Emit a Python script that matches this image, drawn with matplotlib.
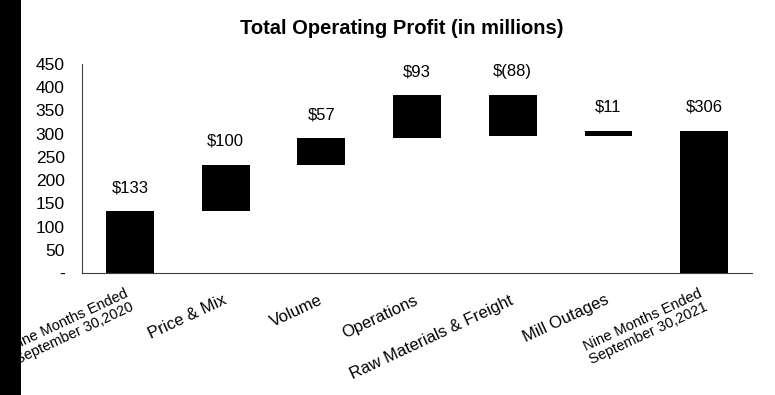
import matplotlib
matplotlib.use("Agg")
import matplotlib.pyplot as plt
from matplotlib.patches import Rectangle

plt.rcParams['font.family'] = ['Liberation Sans', 'DejaVu Sans']

categories = ["Nine Months Ended\nSeptember 30,2020", "Price & Mix", "Volume", "Operations",
              "Raw Materials & Freight", "Mill Outages", "Nine Months Ended\nSeptember 30,2021"]
changes = [133, 100, 57, 93, -88, 11, 306]
kinds = ["total", "delta", "delta", "delta", "delta", "delta", "total"]
labels = ["$133", "$100", "$57", "$93", "$(88)", "$11", "$306"]
yticks = [0, 50, 100, 150, 200, 250, 300, 350, 400, 450]
yticklabels = ["-", "50", "100", "150", "200", "250", "300", "350", "400", "450"]

fig = plt.figure(figsize=(7.75, 3.95), dpi=100)
fig.patches.append(Rectangle((0, 0), 21 / 775, 1, transform=fig.transFigure,
                             facecolor='black', edgecolor='none', zorder=0))
ax = fig.add_axes([82 / 775, 1 - 273 / 395, (752 - 82) / 775, (273 - 64) / 395])

running = 0
bottoms, heights = [], []
for c, k in zip(changes, kinds):
    if k == "total":
        bottoms.append(0)
        heights.append(c)
        running = c
    else:
        start = running
        running = running + c
        bottoms.append(min(start, running))
        heights.append(abs(c))

x = list(range(len(categories)))
ax.bar(x, heights, bottom=bottoms, width=0.5, color='black')
for xi, b, h, t in zip(x, bottoms, heights, labels):
    ax.annotate(t, (xi, b + h), xytext=(0, 17), textcoords='offset points',
                ha='center', va='center', fontsize=12)

ax.set_xlim(-0.5, len(categories) - 0.5)
ax.set_ylim(0, 450)
ax.set_yticks(yticks)
ax.set_yticklabels(yticklabels, fontsize=12.5)
ax.tick_params(axis='y', length=0, pad=12.5)
ax.tick_params(axis='x', length=0, pad=19)
ax.set_xticks(x)
ax.set_xticklabels(categories, rotation=25, ha='right', va='center', rotation_mode='anchor',
                   fontsize=12, multialignment='center', linespacing=1.0,
                   bbox=dict(facecolor='white', edgecolor='none', pad=3))
for lab in ax.get_xticklabels():
    if "\n" in lab.get_text():
        lab.set_fontsize(10.5)
for s in ['top', 'right']:
    ax.spines[s].set_visible(False)
for s in ['left', 'bottom']:
    ax.spines[s].set_color('#404040')
    ax.spines[s].set_linewidth(0.8)

fig.text(402 / 775, 1 - 28 / 395, "Total Operating Profit (in millions)",
         ha='center', va='center', fontsize=14.5, fontweight='bold')

fig.savefig("out.png", dpi=100)
